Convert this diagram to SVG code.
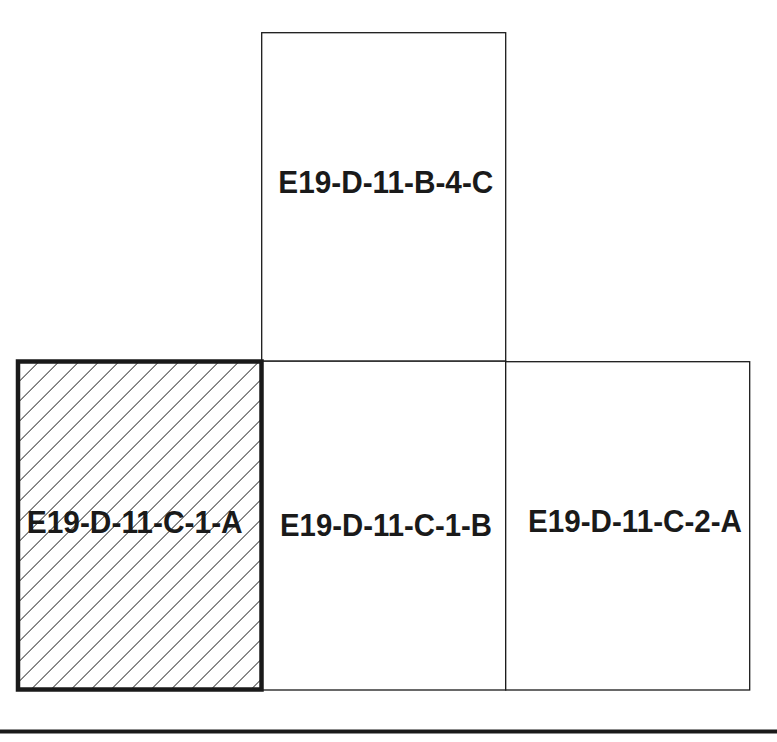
<svg xmlns="http://www.w3.org/2000/svg" width="777" height="742" viewBox="0 0 777 742">
  <style>
    .box { fill: #ffffff; stroke: #1a1a1a; stroke-width: 1.3; }
    .sel { fill: url(#hatch); stroke: #1a1a1a; stroke-width: 4.5; }
    .lbl { font-family: "Liberation Sans", Arial, sans-serif; font-weight: bold; font-size: 31px; fill: #1a1a1a; text-anchor: middle; }
  </style>
  <defs>
    <pattern id="hatch" patternUnits="userSpaceOnUse" width="14.14" height="14.14" patternTransform="rotate(45)">
      <rect width="14.14" height="14.14" fill="#ffffff"/>
      <line x1="0" y1="-1" x2="0" y2="16" stroke="#111111" stroke-width="1.5"/>
    </pattern>
  </defs>
  <rect width="777" height="742" fill="#ffffff"/>
  <g id="node-B-4-C">
    <rect class="box" x="261.7" y="32.7" width="244" height="328.5"/>
    <text class="lbl" x="385.8" y="193.3" textLength="215" lengthAdjust="spacingAndGlyphs">E19-D-11-B-4-C</text>
  </g>
  <g id="node-C-1-B">
    <rect class="box" x="261.7" y="361.2" width="244" height="328.8"/>
    <text class="lbl" x="386" y="535.7" textLength="212" lengthAdjust="spacingAndGlyphs">E19-D-11-C-1-B</text>
  </g>
  <g id="node-C-2-A">
    <rect class="box" x="505.7" y="361.7" width="244" height="328.3"/>
    <text class="lbl" x="635" y="532.3" textLength="214" lengthAdjust="spacingAndGlyphs">E19-D-11-C-2-A</text>
  </g>
  <g id="node-C-1-A">
    <rect class="sel" x="18" y="361.5" width="243.5" height="328"/>
    <text class="lbl" x="134.7" y="532.7" textLength="216" lengthAdjust="spacingAndGlyphs">E19-D-11-C-1-A</text>
  </g>
  <g id="connectors"></g>
  <line x1="0" y1="731.5" x2="777" y2="731.5" stroke="#1a1a1a" stroke-width="4"/>
</svg>
